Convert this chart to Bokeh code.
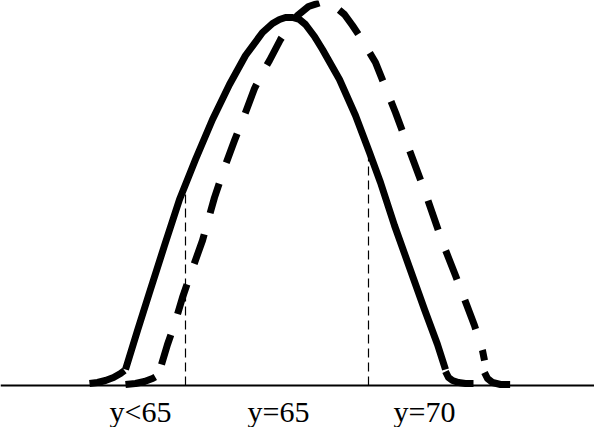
from bokeh.plotting import figure
from bokeh.models import Range1d
from bokeh.embed import file_html
from bokeh.resources import INLINE
from bokeh.core.properties import value

# Solid curve (x position, height above baseline)
solid_foot_l_x = [97, 105, 113, 121, 128, 132]
solid_foot_l_y = [2, 3, 5, 8, 12, 15]
solid_main_x = [133, 145, 157, 172, 187, 203, 220, 237, 253, 270, 280, 287, 293, 300,
                307, 313, 322, 330, 347, 363, 377, 388, 402, 417, 432, 445, 453]
solid_main_y = [16, 55, 93, 140, 186, 226, 266, 301, 330, 353, 362, 366, 368, 368,
                366, 361, 349, 336, 306, 270, 233, 203, 160, 118, 76, 41, 16]
solid_foot_r_x = [453, 456, 460, 466, 473, 481]
solid_foot_r_y = [14, 8, 5, 3, 2, 2]

# Dashed curve
dash_foot_l_x = [133, 143, 152, 160, 167]
dash_foot_l_y = [1, 2, 4, 7, 11]
dash_main_x = [169, 175, 182, 190, 200, 210, 222, 232, 242, 253, 262, 270, 277, 288,
               297, 305, 316, 328, 340, 352, 360, 368, 383, 393, 403, 413, 432, 450,
               463, 482, 490, 492]
dash_main_y = [21, 41, 61, 88, 117, 145, 188, 218, 245, 273, 297, 313, 325, 346,
               360, 370, 379, 383, 381, 371, 360, 348, 323, 298, 273, 246, 195, 143,
               110, 60, 35, 25]
dash_foot_r_x = [492, 495, 500, 508, 521]
dash_foot_r_y = [13, 7, 3, 1, 1]

# Thin vertical dashed markers
vline_x = [193, 376]
vline_top = [193, 231]

# Labels
labels = ["y<65", "y=65", "y=70"]
label_x = [148, 286, 432]
label_y = [-26, -26, -26]

p = figure(width=594, height=427, output_backend="svg", toolbar_location=None,
           x_range=Range1d(8, 602), y_range=Range1d(-42, 385),
           x_axis_type=None, y_axis_type=None, min_border=0)
p.outline_line_color = None
p.xgrid.visible = False
p.ygrid.visible = False
p.background_fill_color = "white"
p.border_fill_color = "white"

# baseline
p.line(x=[8, 602], y=[0, 0], line_color="black", line_width=2)

# vertical dashed lines
p.segment(x0=vline_x, y0=[0, 0], x1=vline_x, y1=vline_top,
          line_color="black", line_width=1.2, line_dash="9 5")

# solid curve
for xs, ys in [(solid_foot_l_x, solid_foot_l_y), (solid_main_x, solid_main_y),
               (solid_foot_r_x, solid_foot_r_y)]:
    p.line(x=xs, y=ys, line_color="black", line_width=7, line_join="round")

# dashed curve
for xs, ys in [(dash_foot_l_x, dash_foot_l_y), (dash_main_x, dash_main_y),
               (dash_foot_r_x, dash_foot_r_y)]:
    p.line(x=xs, y=ys, line_color="black", line_width=7, line_dash="31 22",
           line_join="round")

p.text(x=label_x, y=label_y, text=labels, text_align="center",
       text_baseline="middle", text_font=value("Liberation Serif"),
       text_font_size="30px", text_color="black")

open("out.html", "w").write(file_html(p, INLINE))
